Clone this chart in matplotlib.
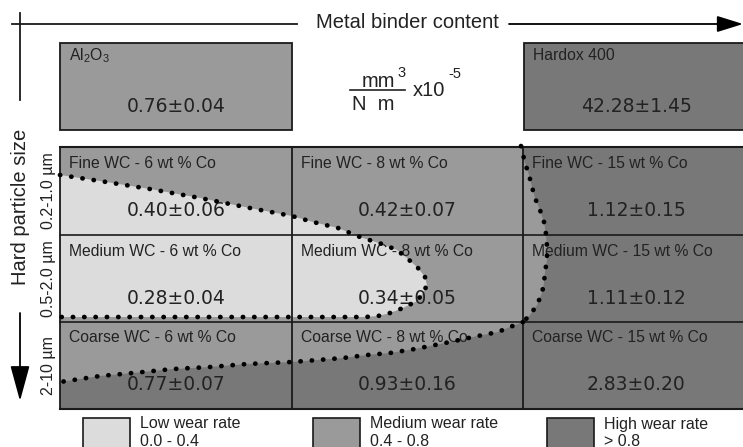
import matplotlib
matplotlib.use('Agg')
import matplotlib.pyplot as plt
from matplotlib.patches import Rectangle, Polygon

plt.rcParams['font.family'] = ['Liberation Sans', 'DejaVu Sans']
plt.rcParams['mathtext.fontset'] = 'custom'
plt.rcParams['mathtext.rm'] = 'Liberation Sans'
plt.rcParams['mathtext.it'] = 'Liberation Sans:italic'
plt.rcParams['mathtext.bf'] = 'Liberation Sans:bold'

# ---- data ----
sizes = ['Fine', 'Medium', 'Coarse']
size_ranges = ['0.2-1.0 µm', '0.5-2.0 µm', '2-10 µm']
cobalt = [6, 8, 15]
wear_mean = [[0.40, 0.42, 1.12],
             [0.28, 0.34, 1.11],
             [0.77, 0.93, 2.83]]
wear_sd = [[0.06, 0.07, 0.15],
           [0.04, 0.05, 0.12],
           [0.07, 0.16, 0.20]]
ref_names = ['Al$_2$O$_3$', 'Hardox 400']
ref_mean = [0.76, 42.28]
ref_sd = [0.04, 1.45]
ref_class = [1, 2]

class_names = ['Low wear rate', 'Medium wear rate', 'High wear rate']
class_ranges = ['0.0 - 0.4', '0.4 - 0.8', '> 0.8']

# boundaries of the wear rate zones (picture coordinates)
low_top = [(60, 175), (100, 181), (150, 189), (200, 198), (250, 208), (292, 216),
           (313, 222), (338, 228), (360, 237), (382, 244), (397, 250), (408, 259),
           (418, 268), (425, 277), (427, 285), (423, 293), (417, 301), (403, 308),
           (390, 313), (378, 316), (365, 317)]
low_bottom = [(365, 317), (292, 317), (60, 317)]
high_right = [(521, 146), (525, 163), (529, 175), (532, 187), (535, 198), (540, 210),
              (544, 222), (546, 234), (547, 247), (547, 260), (545, 272), (544, 283),
              (542, 293), (537, 305), (530, 315), (523, 322)]
high_bottom = [(523, 322), (510, 327), (498, 332), (473, 337), (450, 342), (415, 349),
               (390, 353), (367, 355), (343, 358), (318, 360), (292, 362), (247, 364),
               (210, 367), (173, 369), (133, 373), (100, 376), (60, 382)]

# ---- layout / style ----
col_edges = [60, 292, 523, 752]
row_edges = [147, 235, 322, 409]
ref_box_y = (43, 130)
ref_box_x = [(60, 292), (524, 752)]
class_colors = ['#dcdcdc', '#9a9a9a', '#787878']
line_col = '#1a1a1a'
txt_col = '#222222'

fig = plt.figure(figsize=(7.43, 4.47), dpi=100)
ax = fig.add_axes([0, 0, 1, 1])
ax.set_xlim(0, 743)
ax.set_ylim(447, 0)
ax.axis('off')

# base (medium) grid
ax.add_patch(Rectangle((col_edges[0], row_edges[0]), col_edges[-1] - col_edges[0],
                       row_edges[-1] - row_edges[0], facecolor=class_colors[1],
                       edgecolor='none', zorder=1))
# low zone
ax.add_patch(Polygon(low_top + low_bottom[1:], closed=True, facecolor=class_colors[0],
                     edgecolor='none', zorder=2))
# high zone
high_poly = high_right + high_bottom[1:] + [(60, 409), (752, 409), (752, 147)]
ax.add_patch(Polygon(high_poly, closed=True, facecolor=class_colors[2],
                     edgecolor='none', zorder=2))

# grid lines
for x in col_edges[:-1]:
    ax.plot([x, x], [row_edges[0], row_edges[-1]], color=line_col, lw=1.3, zorder=3)
for y in row_edges:
    ax.plot([col_edges[0], col_edges[-1]], [y, y], color=line_col,
            lw=1.5 if y in (row_edges[0], row_edges[-1]) else 1.2, zorder=3)

# dotted zone borders
for curve in (low_top + low_bottom[1:], high_right, high_bottom):
    xs = [p[0] for p in curve]
    ys = [p[1] for p in curve]
    ax.plot(xs, ys, color='black', lw=3.4, ls=(0, (0.05, 2.35)),
            dash_capstyle='round', zorder=5)

# cell texts
for i, size in enumerate(sizes):
    y0 = row_edges[i]
    for j, co in enumerate(cobalt):
        x0 = col_edges[j]
        xc = (col_edges[j] + min(col_edges[j + 1], 750)) / 2
        ax.text(x0 + 9, y0 + 16, f'{size} WC - {co} wt % Co', fontsize=11.3,
                color=txt_col, va='center', ha='left', zorder=4)
        ax.text(xc, y0 + 63, f'{wear_mean[i][j]:.2f}±{wear_sd[i][j]:.2f}',
                fontsize=13.5, family='DejaVu Sans', color=txt_col,
                va='center', ha='center', zorder=4)

# reference materials
for k, name in enumerate(ref_names):
    x0, x1 = ref_box_x[k]
    ax.add_patch(Rectangle((x0, ref_box_y[0]), x1 - x0, ref_box_y[1] - ref_box_y[0],
                           facecolor=class_colors[ref_class[k]], edgecolor=line_col,
                           lw=1.3, zorder=2))
    ax.text(x0 + 9, ref_box_y[0] + 13, name, fontsize=11.3, color=txt_col,
            va='center', ha='left', zorder=4)
    ax.text((x0 + min(x1, 750)) / 2, ref_box_y[0] + 63,
            f'{ref_mean[k]:.2f}±{ref_sd[k]:.2f}', fontsize=13.5, family='DejaVu Sans',
            color=txt_col, va='center', ha='center', zorder=4)

# units
ax.text(362, 87, 'mm', fontsize=14.5, color=txt_col, ha='left', va='baseline')
ax.text(397, 77, '3', fontsize=10.5, color=txt_col, ha='left', va='baseline')
ax.plot([350, 405], [90, 90], color=txt_col, lw=1.2)
ax.text(373, 110, 'N  m', fontsize=14.5, color=txt_col, ha='center', va='baseline')
ax.text(413, 96, 'x10', fontsize=14.5, color=txt_col, ha='left', va='baseline')
ax.text(448, 78, '-5', fontsize=10.5, color=txt_col, ha='left', va='baseline')

# metal binder axis
ax.plot([12, 297], [24, 24], color=line_col, lw=1.3)
ax.plot([20, 20], [13, 100], color=line_col, lw=1.3)
ax.text(407, 23, 'Metal binder content', fontsize=14.5, color=txt_col,
        ha='center', va='center')
ax.annotate('', xy=(743, 24), xytext=(509, 24),
            arrowprops=dict(arrowstyle='-|>,head_length=0.8,head_width=0.25',
                            mutation_scale=20, color='black', lw=1.3,
                            shrinkA=0, shrinkB=0))

# hard particle size axis
ax.text(21, 207, 'Hard particle size', fontsize=14.5, color=txt_col, rotation=90,
        ha='center', va='center')
for i, rng in enumerate(size_ranges):
    ax.text(48, (row_edges[i] + row_edges[i + 1]) / 2, rng, fontsize=11.5,
            color=txt_col, rotation=90, ha='center', va='center')
ax.annotate('', xy=(20, 401), xytext=(20, 313),
            arrowprops=dict(arrowstyle='-|>,head_length=1.1,head_width=0.3',
                            mutation_scale=20, color='black', lw=1.3,
                            shrinkA=0, shrinkB=0))

# legend
leg_box_x = [83, 313, 547]
for k, (nm, rg) in enumerate(zip(class_names, class_ranges)):
    bx = leg_box_x[k]
    ax.add_patch(Rectangle((bx, 418), 47, 40, facecolor=class_colors[k],
                           edgecolor=line_col, lw=1.2, clip_on=True))
    ax.text(bx + 57, 424, nm, fontsize=11.5, color=txt_col, ha='left', va='center')
    ax.text(bx + 57, 441, rg, fontsize=11.5, color=txt_col, ha='left', va='center')

fig.savefig('out.png', dpi=100)
